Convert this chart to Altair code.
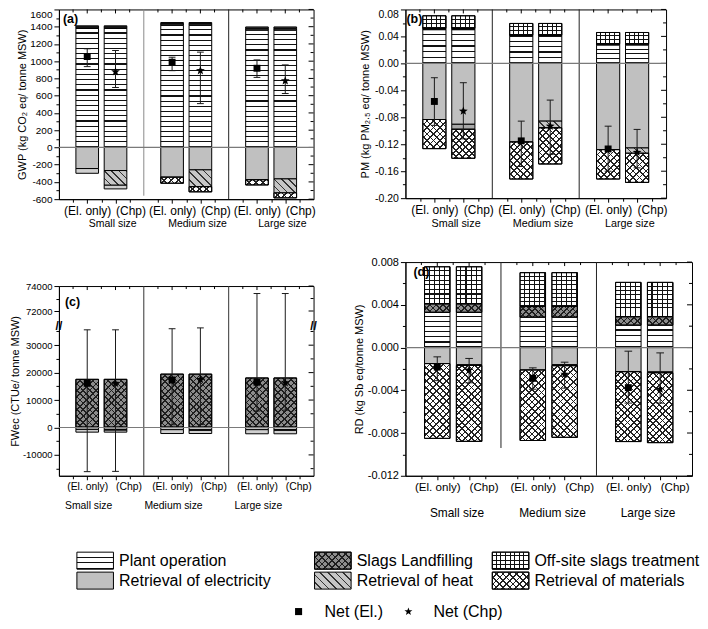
import math
import json
import altair as alt
import pandas as pd

FONT = "Liberation Sans"

sizes = ["Small size", "Medium size", "Large size"]
configs = ["(El. only)", "(Chp)"]
components = ["Plant operation", "Slags Landfilling", "Off-site slags treatment",
              "Retrieval of electricity", "Retrieval of heat", "Retrieval of materials"]
net_names = ["Net (El.)", "Net (Chp)"]

# order of bars: Small El, Small Chp, Medium El, Medium Chp, Large El, Large Chp
gwp_plant = [1380, 1380, 1415, 1415, 1360, 1360]
gwp_slags = [18, 18, 20, 20, 22, 22]
gwp_offsite = [12, 12, 13, 13, 15, 15]
gwp_elec = [-245, -268, -345, -260, -375, -365]
gwp_heat = [0, -168, 0, -195, 0, -160]
gwp_materials = [-55, -45, -70, -60, -60, -60]
gwp_net = [1054, 878, 988, 890, 918, 773]
gwp_low = [937, 695, 890, 508, 812, 625]
gwp_high = [1144, 1124, 1046, 1105, 1015, 957]

pm_plant = [0.050, 0.050, 0.040, 0.040, 0.027, 0.027]
pm_slags = [0.002, 0.002, 0.002, 0.002, 0.002, 0.002]
pm_offsite = [0.0186, 0.0186, 0.0172, 0.0172, 0.0168, 0.0168]
pm_elec = [-0.0833, -0.0904, -0.1166, -0.0857, -0.1280, -0.1255]
pm_heat = [0, -0.0074, 0, -0.0099, 0, -0.0075]
pm_materials = [-0.0432, -0.0430, -0.0550, -0.0537, -0.0436, -0.0436]
pm_net = [-0.0565, -0.0708, -0.1150, -0.0932, -0.1270, -0.1320]
pm_low = [-0.0920, -0.1120, -0.1530, -0.1350, -0.1600, -0.1550]
pm_high = [-0.0213, -0.0287, -0.0857, -0.0545, -0.0932, -0.0980]

fw_plant = [150, 150, 150, 150, 150, 150]
fw_slags = [17400, 17400, 19300, 19300, 17900, 17900]
fw_offsite = [0, 0, 0, 0, 0, 0]
fw_elec = [-700, -700, -800, -800, -800, -800]
fw_heat = [0, -200, 0, -200, 0, -200]
fw_materials = [-1000, -800, -1400, -1200, -1500, -1300]
fw_net = [16100, 16100, 17300, 17500, 16500, 16300]
fw_low = [-16100, -16000, 1000, 1100, 6000, 6300]
fw_high = [35600, 35600, 36000, 36300, 73400, 73400]

rd_plant = [0.0033, 0.0033, 0.00285, 0.00285, 0.0021, 0.0021]
rd_slags = [0.0008, 0.0008, 0.0010, 0.0010, 0.00078, 0.00078]
rd_offsite = [0.00346, 0.00346, 0.00316, 0.00316, 0.00322, 0.00322]
rd_elec = [-0.0015, -0.0016, -0.0021, -0.0016, -0.00226, -0.00228]
rd_heat = [0, -0.00008, 0, -0.0001, 0, -0.00008]
rd_materials = [-0.0070, -0.0071, -0.0066, -0.0067, -0.00654, -0.00654]
rd_net = [-0.00183, -0.0021, -0.00288, -0.0025, -0.00375, -0.0039]
rd_low = [-0.0031, -0.0033, -0.0039, -0.0038, -0.0052, -0.0052]
rd_high = [-0.00087, -0.00102, -0.0019, -0.00137, -0.00034, -0.0005]

X_TICKS = [0.5, 1, 1.5, 2, 2.5, 3.5, 4, 4.5, 5, 5.5, 6.5, 7, 7.5, 8, 8.5]

# ---------------- pattern styles (drawn as gradients) ----------------
CLEAR = "rgba(255,255,255,0)"


def star_path(r_in=0.42):
    pts = []
    for k in range(10):
        r = 1.0 if k % 2 == 0 else r_in
        ang = -math.pi / 2 + k * math.pi / 5
        pts.append((r * math.cos(ang), r * math.sin(ang)))
    return "M" + "L".join(f"{x:.3f},{y:.3f}" for x, y in pts) + "Z"


STAR = star_path()


def stops_for(n, bg, line, frac):
    stops = []
    for k in range(n):
        a = round(k / n, 5)
        b = round((k + 1 - frac) / n, 5)
        c = round((k + 1) / n, 5)
        stops += [{"offset": a, "color": bg}, {"offset": b, "color": bg},
                  {"offset": b, "color": line}, {"offset": c, "color": line}]
    return stops


def hstripes(n, bg="white", line="#111111", frac=0.22):
    return {"gradient": "linear", "x1": 0, "y1": 0, "x2": 0, "y2": 1, "stops": stops_for(n, bg, line, frac)}


def vstripes(n, bg=CLEAR, line="#111111", frac=0.22):
    return {"gradient": "linear", "x1": 0, "y1": 0, "x2": 1, "y2": 0, "stops": stops_for(n, bg, line, frac)}


def diag(wpx, hpx, direction, bg, line, period=4.6, frac=0.26):
    L = wpx + hpx
    q = (wpx ** 2 + hpx ** 2) / L
    ax, ay = wpx / q, hpx / q
    n = max(2, round(L / (period * math.sqrt(2))))
    g = {"gradient": "linear", "stops": stops_for(n, bg, line, frac)}
    if direction == 0:
        g.update({"x1": 0, "y1": 0, "x2": round(ax, 4), "y2": round(ay, 4)})
    else:
        g.update({"x1": 0, "y1": 1, "x2": round(ax, 4), "y2": round(1 - ay, 4)})
    return g


def seg_fills(comp, wpx, hpx):
    if comp == "Plant operation":
        return [hstripes(max(2, round(hpx / 5.2)))] if hpx >= 10 else ["white"]
    if comp == "Off-site slags treatment":
        if hpx >= 8:
            return [hstripes(max(2, round(hpx / 4.4))), vstripes(max(2, round(wpx / 4.8)))]
        return ["#555555"]
    if comp == "Slags Landfilling":
        if hpx >= 6:
            return [diag(wpx, hpx, 0, "#8c8c8c", "#1e1e1e"), diag(wpx, hpx, 1, CLEAR, "#1e1e1e")]
        return ["#3a3a3a"]
    if comp == "Retrieval of electricity":
        return ["#c0c0c0"]
    if comp == "Retrieval of heat":
        return [diag(wpx, hpx, 1, "#c6c6c6", "#333333", period=5.5, frac=0.2)] if hpx >= 5 else ["#a8a8a8"]
    if comp == "Retrieval of materials":
        if hpx >= 5:
            return [diag(wpx, hpx, 0, "white", "#222222"), diag(wpx, hpx, 1, CLEAR, "#222222")]
        return ["#cfcfcf"]
    return ["white"]


def segments(vals):
    rows = []
    for i in range(6):
        s, c = divmod(i, 2)
        pos = 3 * s + 1 + c
        up = 0.0
        down = 0.0
        for comp in components:
            v = vals[comp][i]
            if v == 0:
                continue
            if v > 0:
                y0, y1 = up, up + v
                up += v
            else:
                y0, y1 = down, down + v
                down += v
            rows.append(dict(comp=comp, size=s, cfg=c, xl=pos - 0.4, xr=pos + 0.4,
                             y0=y0, y1=y1, h=abs(v)))
    return pd.DataFrame(rows)


def build_panel(P, vals, net, low, high):
    w, h = P["w"], P["h"]
    major = P["major"]
    extra = {}
    if P.get("top_test"):
        extra["labelBaseline"] = {"condition": {"test": P["top_test"], "value": "top"}, "value": "middle"}
    yaxis = alt.Axis(values=P["yvalues"], format=P["fmt"],
                     labelExpr=f"({major}) ? replace(datum.label, '\u2212', '-') : ''",
                     tickSize={"condition": {"test": major, "value": 5}, "value": 3},
                     labelFontSize=P["tickfs"], titleFontSize=11, labelPadding=2,
                     titlePadding=P["titlepad"], labelOverlap=False, labelFlush=False,
                     grid=False, **extra)
    xaxis = alt.Axis(values=X_TICKS,
                     labelExpr="datum.value % 3 == 1 ? '(El. only)' : (datum.value % 3 == 2 ? '(Chp)' : '')",
                     labelAlign={"condition": {"test": "datum.value % 3 == 2", "value": "left"}, "value": "center"},
                     labelFontSize=P["xfs"], labelPadding=2,
                     tickSize={"condition": {"test": "datum.value % 1 == 0", "value": 4}, "value": 3},
                     labelOverlap=False, labelFlush=False, grid=False)
    xs = alt.Scale(domain=[0, 9], nice=False, zero=False)
    if P.get("yrange"):
        ys = alt.Scale(domain=P["domain"], range=P["yrange"], nice=False, zero=False)
    else:
        ys = alt.Scale(domain=P["domain"], nice=False, zero=False)

    def X(f):
        return alt.X(f"{f}:Q", scale=xs, axis=xaxis, title=None)

    def Y(f):
        return alt.Y(f"{f}:Q", scale=ys, axis=yaxis, title=P["title"])

    layers = []
    sep = pd.DataFrame({"pos": [3, 6], "top": P["sep_top"], "bot": P["sep_bot"], "col": P["sep_col"]})
    layers.append(alt.Chart(sep).mark_rule(strokeWidth=1).encode(
        x=X("pos"), y=Y("top"), y2="bot", color=alt.Color("col:N", scale=None)))

    # mirror ticks on the right and top edges (pointing inwards)
    yt = pd.DataFrame({"v": P["yvalues"]})
    yt["major"] = [P["is_major"](v) for v in P["yvalues"]]
    for flag, ln in ((True, 5), (False, 3)):
        layers.append(alt.Chart(yt[yt["major"] == flag]).mark_rule(color="black", strokeWidth=1).encode(
            x=alt.value(w - ln), x2=alt.value(w), y=Y("v")))
    xt = pd.DataFrame({"v": X_TICKS})
    for flag, ln in ((True, 4), (False, 3)):
        sub = xt[(xt["v"] % 1 == 0) == flag]
        layers.append(alt.Chart(sub).mark_rule(color="black", strokeWidth=1).encode(
            x=X("v"), y=alt.value(0), y2=alt.value(ln)))

    df = segments(vals)
    wpx = 0.8 * w / 9
    groups = {}
    for idx, r in df.iterrows():
        fills = seg_fills(r["comp"], wpx, r["h"] * P["ppu"])
        key = json.dumps(fills, sort_keys=True)
        groups.setdefault(key, (fills, []))[1].append(idx)
    for key, (fills, idxs) in groups.items():
        sub = df.loc[idxs]
        for f in fills:
            layers.append(alt.Chart(sub).mark_bar(fill=f, stroke="black", strokeWidth=1).encode(
                x=X("xl"), x2="xr", y=Y("y0"), y2="y1"))

    layers.append(alt.Chart(pd.DataFrame({"z": [0]})).mark_rule(color="#7a7a7a", strokeWidth=1.2).encode(y=Y("z")))

    nd = pd.DataFrame({"pos": [3 * (i // 2) + 1 + i % 2 for i in range(6)],
                       "cfg": [i % 2 for i in range(6)], "net": net, "lo": low, "hi": high})
    nd["cl"] = nd["pos"] - 0.12
    nd["cr"] = nd["pos"] + 0.12
    layers.append(alt.Chart(nd).mark_rule(color="#1a1a1a", strokeWidth=1).encode(x=X("pos"), y=Y("lo"), y2="hi"))
    layers.append(alt.Chart(nd).mark_rule(color="#1a1a1a", strokeWidth=1).encode(x=X("cl"), x2="cr", y=Y("lo")))
    layers.append(alt.Chart(nd).mark_rule(color="#1a1a1a", strokeWidth=1).encode(x=X("cl"), x2="cr", y=Y("hi")))
    layers.append(alt.Chart(nd).transform_filter("datum.cfg == 0").mark_point(
        shape="square", filled=True, size=48, color="black", opacity=1).encode(x=X("pos"), y=Y("net")))
    layers.append(alt.Chart(nd).transform_filter("datum.cfg == 1").mark_point(
        shape=STAR, filled=True, size=85, color="black", opacity=1).encode(x=X("pos"), y=Y("net")))

    if P.get("break"):
        bd = pd.DataFrame({"b": [P["break"]], "t": ["//"]})
        for xv in (0, w):
            layers.append(alt.Chart(bd).mark_text(fontSize=12, fontWeight="bold", font=FONT,
                                                  color="black").encode(
                x=alt.value(xv), y=Y("b"), text="t:N"))

    layers.append(alt.Chart(pd.DataFrame({"t": [P["label"]]})).mark_text(
        font=FONT, fontSize=12.5, fontWeight="bold", align="left", baseline="middle", color="black").encode(
        x=alt.value(P["label_xy"][0]), y=alt.value(P["label_xy"][1]), text="t:N"))

    sd = pd.DataFrame({"s": sizes, "sx": [3 * k + 1 + P["size_off"] for k in range(3)]})
    layers.append(alt.Chart(sd).mark_text(font=FONT, fontSize=P["sizefs"], color="black",
                                          baseline="middle").encode(
        x=X("sx"), y=alt.value(h + P["size_dy"]), text="s:N"))

    return alt.layer(*layers).properties(width=w, height=h)


def comp_vals(plant, slags, offsite, elec, heat, materials):
    return dict(zip(components, [plant, slags, offsite, elec, heat, materials]))


def near_multiple(v, step):
    return abs(v / step - round(v / step)) < 1e-6


PA = dict(title="GWP (kg CO\u2082 eq/ tonne MSW)", w=255, h=190, domain=[-600, 1600], ppu=190 / 2200,
          yvalues=list(range(-600, 1601, 100)), major="datum.value % 200 == 0", fmt="d",
          is_major=lambda v: near_multiple(v, 200), top_test="datum.value == 1600",
          tickfs=10, titlepad=2,
          xfs=12, sep_top=[1600, 1600], sep_bot=[-560, -600], sep_col=["#8a8a8a", "#222222"],
          label="(a)", label_xy=(4, 10), size_off=0.9, size_dy=25, sizefs=10.5)
PB = dict(title="PM (kg PM\u2082.\u2085 eq/ tonne MSW)", w=261, h=189, domain=[-0.20, 0.08], ppu=189 / 0.28,
          yvalues=[round(-0.20 + 0.02 * k, 2) for k in range(15)],
          major="abs(datum.value / 0.04 - round(datum.value / 0.04)) < 1e-6", fmt=".2f",
          is_major=lambda v: near_multiple(v, 0.04), top_test="abs(datum.value - 0.08) < 1e-9",
          tickfs=10.5, titlepad=4,
          xfs=12, sep_top=[0.08, 0.08], sep_bot=[-0.20, -0.20], sep_col=["#222222", "#222222"],
          label="(b)", label_xy=(1, 10), size_off=0.75, size_dy=26, sizefs=10.8)
PC = dict(title="FWec (CTUe/ tonne MSW)", w=255, h=190, domain=[-17600, 37000, 71000, 74000],
          yrange=[190, 40, 37.5, 0], ppu=27.3 / 10000,
          yvalues=[-15000, -10000, -5000, 0, 5000, 10000, 15000, 20000, 25000, 30000, 35000, 72000, 73000, 74000],
          major="(datum.value > 50000 ? datum.value % 2000 : datum.value % 10000) == 0", fmt="d",
          is_major=lambda v: near_multiple(v, 2000) if v > 50000 else near_multiple(v, 10000),
          tickfs=9.5, titlepad=2,
          xfs=10.4, sep_top=[74000, 74000], sep_bot=[-17600, -17600], sep_col=["#333333", "#333333"],
          label="(c)", label_xy=(6, 16), size_off=0.05, size_dy=30, sizefs=10.4, **{"break": 37000})
PD = dict(title="RD (kg Sb eq/tonne MSW)", w=287, h=214, domain=[-0.012, 0.008], ppu=214 / 0.02,
          yvalues=[round(-0.012 + 0.002 * k, 3) for k in range(11)],
          major="abs(datum.value / 0.004 - round(datum.value / 0.004)) < 1e-6", fmt=".3f",
          is_major=lambda v: near_multiple(v, 0.004),
          tickfs=11, titlepad=3,
          xfs=11.6, sep_top=[0.008, 0.008], sep_bot=[-0.0094, -0.012], sep_col=["#222222", "#222222"],
          label="(d)", label_xy=(8, 10), size_off=0.62, size_dy=37, sizefs=11.9)

pa = build_panel(PA, comp_vals(gwp_plant, gwp_slags, gwp_offsite, gwp_elec, gwp_heat, gwp_materials),
                 gwp_net, gwp_low, gwp_high)
pb = build_panel(PB, comp_vals(pm_plant, pm_slags, pm_offsite, pm_elec, pm_heat, pm_materials),
                 pm_net, pm_low, pm_high)
pc = build_panel(PC, comp_vals(fw_plant, fw_slags, fw_offsite, fw_elec, fw_heat, fw_materials),
                 fw_net, fw_low, fw_high)
pd_ = build_panel(PD, comp_vals(rd_plant, rd_slags, rd_offsite, rd_elec, rd_heat, rd_materials),
                  rd_net, rd_low, rd_high)

# ---------------- legend (its own small chart, origin under panel (a)'s plot) ----------------
LEG = dict(w=640, h=76, sw=36.6, sh=17, col_x=[18, 256, 434], row_y=[19, 39], gap=5.6,
           net_sym_x=[240, 350], net_text_x=[266, 375], net_y=70, fs=16)
lx = alt.Scale(domain=[0, LEG["w"]], nice=False, zero=False)
ly = alt.Scale(domain=[0, LEG["h"]], nice=False, zero=False, reverse=True)
leg_layers = []
for k, comp in enumerate(components):
    col, row = k % 3, k // 3
    x0 = LEG["col_x"][col]
    yc = LEG["row_y"][row]
    sw = pd.DataFrame({"x0": [x0], "x1": [x0 + LEG["sw"]], "y0": [yc - LEG["sh"] / 2],
                       "y1": [yc + LEG["sh"] / 2], "t": [comp], "tx": [x0 + LEG["sw"] + LEG["gap"]], "ty": [yc]})
    for f in seg_fills(comp, LEG["sw"], LEG["sh"]):
        leg_layers.append(alt.Chart(sw).mark_bar(fill=f, stroke="black", strokeWidth=1).encode(
            x=alt.X("x0:Q", scale=lx, axis=None), x2="x1",
            y=alt.Y("y0:Q", scale=ly, axis=None), y2="y1"))
    leg_layers.append(alt.Chart(sw).mark_text(font=FONT, fontSize=LEG["fs"], align="left",
                                              baseline="middle", color="black").encode(
        x=alt.X("tx:Q", scale=lx, axis=None), y=alt.Y("ty:Q", scale=ly, axis=None), text="t:N"))
nl = pd.DataFrame({"n": net_names, "sx": LEG["net_sym_x"], "tx": LEG["net_text_x"], "y": [LEG["net_y"]] * 2})
leg_layers.append(alt.Chart(nl).transform_filter("datum.n == 'Net (El.)'").mark_point(
    shape="square", filled=True, size=50, color="black", opacity=1).encode(
    x=alt.X("sx:Q", scale=lx, axis=None), y=alt.Y("y:Q", scale=ly, axis=None)))
leg_layers.append(alt.Chart(nl).transform_filter("datum.n == 'Net (Chp)'").mark_point(
    shape=STAR, filled=True, size=70, color="black", opacity=1).encode(
    x=alt.X("sx:Q", scale=lx, axis=None), y=alt.Y("y:Q", scale=ly, axis=None)))
leg_layers.append(alt.Chart(nl).mark_text(font=FONT, fontSize=LEG["fs"], align="left",
                                          baseline="middle", color="black").encode(
    x=alt.X("tx:Q", scale=lx, axis=None), y=alt.Y("y:Q", scale=ly, axis=None), text="n:N"))
legend = alt.layer(*leg_layers).properties(width=LEG["w"], height=LEG["h"], view={"stroke": "transparent"})

left = alt.vconcat(pa, pc, spacing=50)
right = alt.vconcat(pb, pd_, spacing=25)
grid = alt.hconcat(left, right, spacing=35)
chart = alt.vconcat(grid, legend, spacing=21).properties(
    padding={"left": 0, "right": 0, "top": 0, "bottom": 0}
).configure_view(stroke="black", strokeWidth=1).configure_axis(
    labelFont=FONT, titleFont=FONT, labelColor="black", titleColor="black",
    domainColor="black", tickColor="black", titleFontWeight="normal", domainWidth=1, tickWidth=1
).configure_text(font=FONT)

chart.save("out.html", embed_options={"renderer": "svg", "actions": False})
